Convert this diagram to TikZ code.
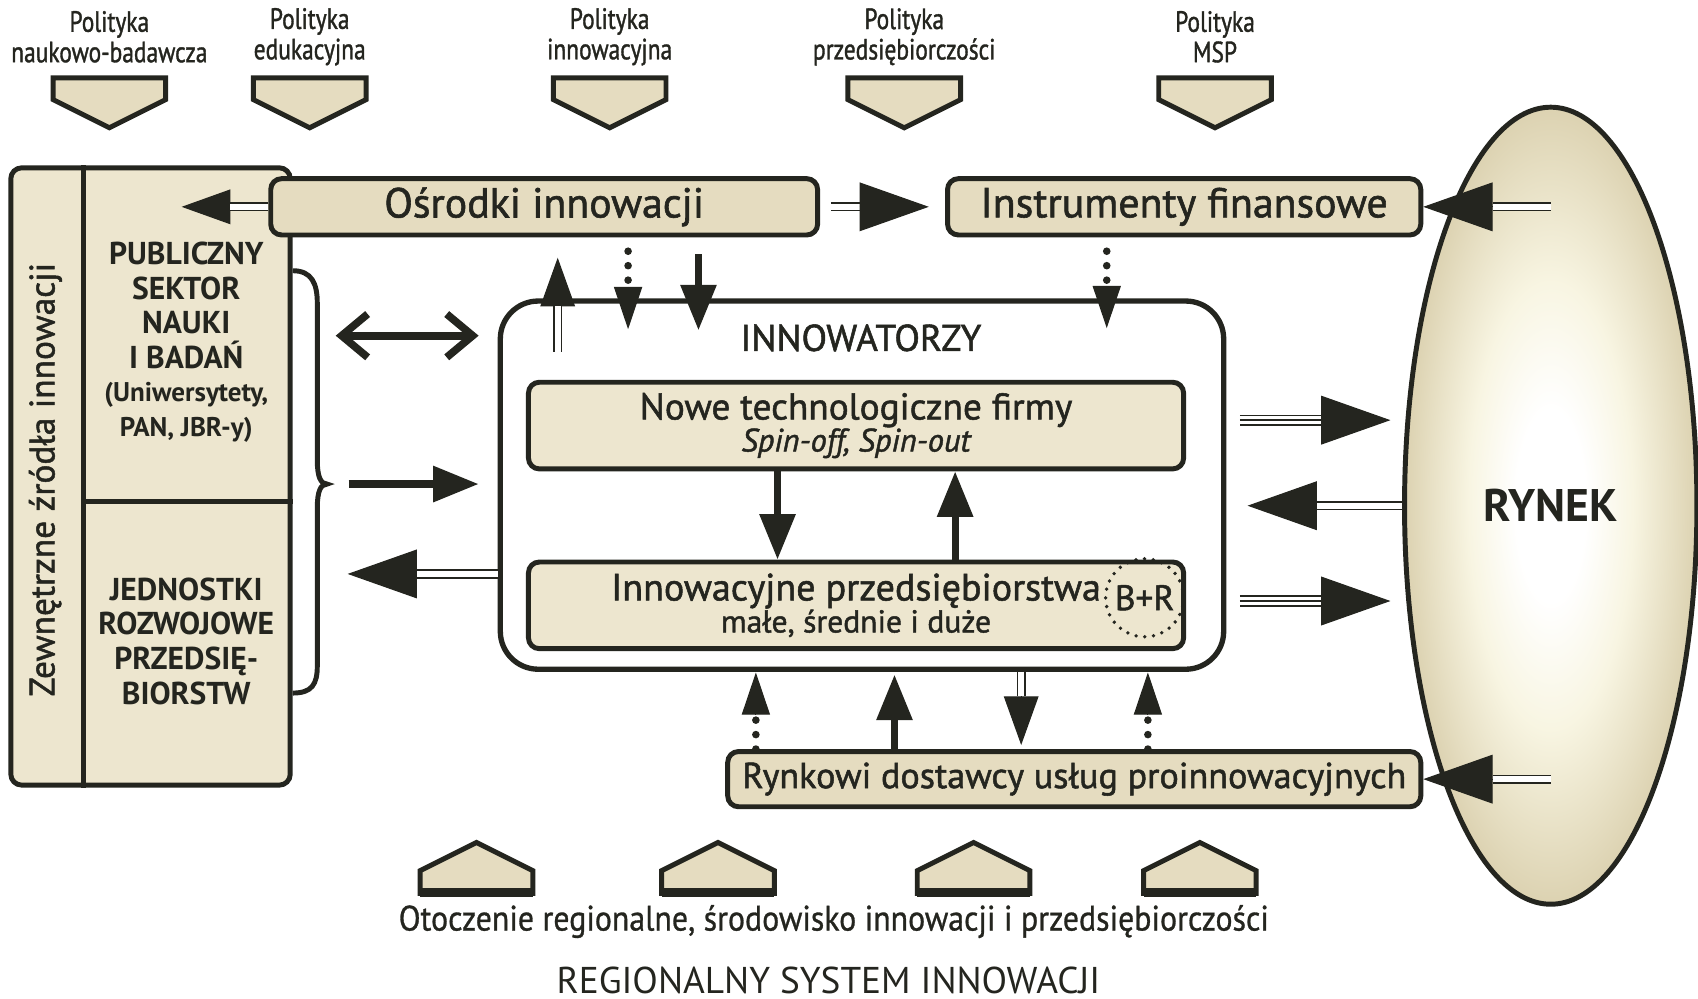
\documentclass[tikz,border=0pt]{standalone}
\usepackage{fontspec}
\setmainfont{PT Sans}
\newfontfamily\medfont[FakeBold=1.4]{PT Sans}
\newfontfamily\condfont[FakeStretch=0.8,FakeBold=1.2]{PT Sans}
\newfontfamily\semicond[FakeStretch=0.9,FakeBold=0.8]{PT Sans}
\usepackage{tikz}
\usetikzlibrary{arrows.meta,shapes.geometric,calc}
\definecolor{rsiink}{HTML}{24251F}
\definecolor{rsibeige}{HTML}{E5DCC0}
\definecolor{rsicell}{HTML}{EDE6CF}
\definecolor{rsicream}{HTML}{F8F5E2}
\definecolor{rsiedge}{HTML}{DCD2B1}
\pgfdeclareradialshading{rynekshade}{\pgfpoint{0bp}{0bp}}{color(0bp)=(white); color(6bp)=(white);
    color(14bp)=(rsicream); color(25bp)=(rsiedge); color(50bp)=(rsiedge)}
\newcommand{\fsz}[2]{\fontsize{#1}{#2}\selectfont}
\tikzset{
    txt/.style={text=rsiink,inner sep=0pt,align=center},
    box/.style={txt,draw=rsiink,line width=1.3pt,fill=rsibeige,rounded corners=1mm},
    cell/.style={box,fill=rsicell},
    innbox/.style={draw=rsiink,line width=1.4pt,fill=white,rounded corners=3.5mm},
    pol/.style={txt,font=\condfont\fsz{7.7}{8}},
    pent/.style={draw=rsiink,line width=1.3pt,fill=rsibeige},
    rule/.style={draw=rsiink,line width=1.5pt},
    brc/.style={draw=rsiink,line width=1.3pt},
    dbl/.style={draw=rsiink,line width=0.45pt,double=white,double distance=1.5pt},
    tpl/.style={draw=rsiink,line width=2.9pt,postaction={draw=white,line width=2.1pt},
        postaction={draw=rsiink,line width=0.45pt}},
    dotline/.style={draw=rsiink,line width=2pt,line cap=round,dash pattern=on 0pt off 3.8pt},
    heavy/.style={draw=rsiink,line width=1.9pt,-{Triangle[length=4.2mm,width=3.2mm]}},
    twoway/.style={draw=rsiink,line width=2pt,
        {Straight Barb[length=2.4mm,width=4mm]}-{Straight Barb[length=2.4mm,width=4mm]}},
    hbig/.style={draw=rsiink,line width=0.3pt,-{Triangle[length=6.4mm,width=4.5mm]}},
    hmid/.style={draw=rsiink,line width=0.3pt,-{Triangle[length=4.5mm,width=3.2mm]}},
    hsml/.style={draw=rsiink,line width=0.3pt,-{Triangle[length=3.9mm,width=2.6mm]}},
    rdcircle/.style={circle,draw=rsiink,line width=1pt,line cap=round,
        dash pattern=on 0pt off 2.3pt,minimum size=7.2mm,inner sep=0pt},
}
\begin{document}
\begin{tikzpicture}[x=1mm,y=-1mm]
    \useasboundingbox (0,0) rectangle (156.8,92.2);

    % policies on top
    \foreach \x/\n/\pname in {10.1/1/naukowo-badawcza,28.6/2/edukacyjna,56.3/3/innowacyjna,
        83.5/4/przedsiębiorczości,112.2/5/MSP} {
        \node[pol] (pol\n) at (\x,3.4) {Polityka\\\pname};
        \draw[pent] (\x-5.2,7.2) -- (\x+5.2,7.2) -- (\x+5.2,9.2) -- (\x,11.8) -- (\x-5.2,9.2) -- cycle;
    }

    % external sources of innovation
    \node[cell,minimum width=25.8mm,minimum height=57mm] (src) at (13.9,44.0) {};
    \draw[rule] (7.7,0 |- src.north) -- (7.7,0 |- src.south);
    \draw[rule] (7.7,46.3) -- (src.east |- 0,46.3);
    \node[txt,rotate=90,font=\medfont\fsz{9.3}{11}] (ext) at (4.2,44.3) {Zewnętrzne źródła innowacji};
    \node[txt,font=\bfseries\fsz{8.3}{9.1}] (pub) at (17.2,28.2) {PUBLICZNY\\SEKTOR\\NAUKI\\I BADAŃ};
    \node[txt,font=\bfseries\fsz{7.1}{9.1}] (pubx) at (17.2,38.1) {(Uniwersytety,\\PAN, JBR-y)};
    \node[txt,font=\bfseries\fsz{8.3}{9.1}] (jed) at (17.2,59.2) {JEDNOSTKI\\ROZWOJOWE\\PRZEDSIĘ-\\BIORSTW};
    \draw[brc] (src.east |- 0,25.0) .. controls (28.8,25.0) and (29.3,26.2) .. (29.3,28.0)
        -- (29.3,42.5) .. controls (29.3,44.0) and (29.6,44.7) .. (30.2,44.7)
        .. controls (29.6,44.7) and (29.3,45.4) .. (29.3,46.9)
        -- (29.3,61.5) .. controls (29.3,63.2) and (28.8,64.0) .. (src.east |- 0,64.0);

    % institutions
    \node[box,minimum width=50.5mm,minimum height=5.2mm,font=\medfont\fsz{11}{13}] (osr) at (50.25,19.1) {Ośrodki innowacji};
    \node[box,minimum width=43.7mm,minimum height=5.2mm,font=\medfont\fsz{11}{13}] (fin) at (109.35,19.1) {Instrumenty finansowe};
    \node[box,minimum width=64mm,minimum height=5.1mm,font=\medfont\fsz{9.5}{11}] (ryn) at (99.2,71.95) {Rynkowi dostawcy usług proinnowacyjnych};

    % innovators
    \node[innbox,minimum width=66.8mm,minimum height=34mm] (inv) at (79.6,44.8) {};
    \node[txt,font=\medfont\fsz{9.8}{11}] (invt) at (79.5,31.2) {INNOWATORZY};
    \node[cell,minimum width=60.5mm,minimum height=8mm,font=\medfont\fsz{9.8}{10}] (nowe) at (79.05,39.3)
        {Nowe technologiczne firmy\\[-1.6pt]{\itshape\fsz{8.5}{9}Spin-off, Spin-out}};
    \node[cell,minimum width=60.5mm,minimum height=8mm,font=\medfont\fsz{10}{10}] (firm) at (79.05,55.9)
        {Innowacyjne przedsiębiorstwa\\[-1.6pt]{\fsz{8.3}{9}małe, średnie i duże}};
    \node[rdcircle,txt,font=\medfont\fsz{9.3}{10}] (br) at (105.7,55.2) {B+R};

    % market
    \node[ellipse,draw=rsiink,line width=1.3pt,shading=rynekshade,
        minimum width=27mm,minimum height=73.6mm,text=rsiink,font=\bfseries\fsz{12}{13}] (mkt) at (143.2,46.7) {RYNEK};

    % regional surroundings
    \foreach \x in {44.0,66.3,89.9,110.8} {
        \draw[pent] (\x-5.2,82.5) -- (\x-5.2,80.4) -- (\x,77.8) -- (\x+5.2,80.4) -- (\x+5.2,82.5) -- cycle;
        \draw[rule,line width=2.2pt] (\x-5.2,82.4) -- (\x+5.2,82.4);
    }
    \node[txt,font=\semicond\fsz{9.3}{11}] (env) at (77.0,85.1) {Otoczenie regionalne, środowisko innowacji i przedsiębiorczości};
    \node[txt,font=\fsz{9.8}{12}] (rsi) at (76.5,90.5) {REGIONALNY SYSTEM INNOWACJI};

    % flows at the top
    \draw[hmid] ([xshift=-3.5mm]osr.west) -- ++(-4.5,0);
    \draw[dbl] (osr.west) -- ([xshift=-3.5mm]osr.west);
    \draw[dbl] ([xshift=1mm]osr.east) -- ([xshift=-7.9mm]fin.west);
    \draw[hbig] ([xshift=-7.9mm]fin.west) -- ([xshift=-1.5mm]fin.west);
    \draw[hbig] ([xshift=6.4mm]fin.east) -- (fin.east);
    \draw[dbl] (mkt.center |- fin.east) -- ([xshift=6.4mm]fin.east);
    \draw[hmid] (51.5,28.3) -- (51.5,23.8);
    \draw[dbl] (51.5,32.5) -- (51.5,28.3);
    \draw[dotline] (58.0,23.2) -- (58.0,26.5);
    \draw[hsml] (58.0,26.5) -- (58.0,30.4);
    \draw[heavy] (64.5,23.5) -- (64.5,30.5);
    \draw[dotline] (102.2,23.2) -- (102.2,26.4);
    \draw[hsml] (102.2,26.4) -- (102.2,30.3);

    % flows on the left
    \draw[twoway] (31.0,31.0) -- (44.2,31.0);
    \draw[heavy] (32.2,44.7) -- (44.2,44.7);
    \draw[hbig] (38.5,53.0) -- (32.1,53.0);
    \draw[dbl] (inv.west |- 0,53.0) -- (38.5,53.0);

    % flows inside
    \draw[heavy] (71.8,0 |- nowe.south) -- (71.8,0 |- firm.north);
    \draw[heavy] (88.2,0 |- firm.north) -- (88.2,0 |- nowe.south);

    % flows on the right
    \draw[tpl] (114.5,38.8) -- (122.0,38.8);
    \draw[hbig] (122.0,38.8) -- (128.4,38.8);
    \draw[hbig] (121.6,46.7) -- (115.2,46.7);
    \draw[dbl] (mkt.west) -- (121.6,46.7);
    \draw[tpl] (114.5,55.5) -- (122.0,55.5);
    \draw[hbig] (122.0,55.5) -- (128.4,55.5);
    \draw[hbig] ([xshift=6.4mm]ryn.east) -- (ryn.east);
    \draw[dbl] (mkt.center |- ryn.east) -- ([xshift=6.4mm]ryn.east);

    % flows at the bottom
    \draw[dotline] (69.8,0 |- ryn.north) -- (69.8,66.0);
    \draw[hsml] (69.8,66.0) -- (69.8,62.1);
    \draw[heavy] (82.6,0 |- ryn.north) -- (82.6,62.3);
    \draw[dbl] (94.3,0 |- inv.south) -- (94.3,64.3);
    \draw[hmid] (94.3,64.3) -- (94.3,68.8);
    \draw[dotline] (106.0,0 |- ryn.north) -- (106.0,66.0);
    \draw[hsml] (106.0,66.0) -- (106.0,62.1);
\end{tikzpicture}
\end{document}
